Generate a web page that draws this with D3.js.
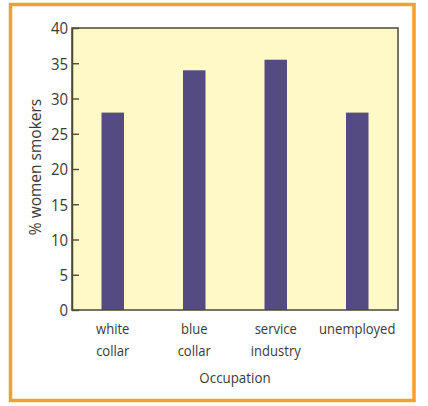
<!DOCTYPE html>
<html><head><meta charset="utf-8">
<script src="https://cdn.jsdelivr.net/npm/d3@7"></script>
<style>
html,body{margin:0;padding:0;background:#fff;}
svg{display:block;}
text{font-family:"Open Sans","DejaVu Sans",sans-serif;fill:#3a3a3a;}
</style></head>
<body>
<svg id="chart" width="428" height="406"></svg>
<script>
const categories = [["white","collar"],["blue","collar"],["service","industry"],["unemployed"]];
const values = [28, 34, 35.5, 28];
const yTicks = [0,5,10,15,20,25,30,35,40];
const yLabel = "% women smokers";
const xLabel = "Occupation";

const svg = d3.select("#chart");
const m = {left:72, right:398, top:28, bottom:310};
const sx = 0.87;

svg.append("rect").attr("x",10.5).attr("y",4.5).attr("width",403.5).attr("height",396)
  .attr("fill","none").attr("stroke","#f5a02c").attr("stroke-width",3.5);

const keys = categories.map(c=>c.join(" "));
const x = d3.scaleBand().domain(keys).range([m.left,m.right]).paddingInner(0.724).paddingOuter(0.362);
const y = d3.scaleLinear().domain([0,40]).range([m.bottom,m.top]);

svg.append("rect").attr("x",m.left).attr("y",m.top).attr("width",m.right-m.left).attr("height",m.bottom-m.top)
  .attr("fill","#fff9c8");

svg.selectAll("rect.bar").data(values).join("rect").attr("class","bar")
  .attr("x",(d,i)=>x(keys[i])).attr("width",x.bandwidth())
  .attr("y",d=>y(d)).attr("height",d=>y(0)-y(d)).attr("fill","#534b82");

svg.append("rect").attr("x",m.left).attr("y",m.top).attr("width",m.right-m.left).attr("height",m.bottom-m.top)
  .attr("fill","none").attr("stroke","#4a4838").attr("stroke-width",1.5);

const ya = svg.append("g").attr("transform",`translate(${m.left},0)`)
  .call(d3.axisLeft(y).tickValues(yTicks).tickSizeInner(-7).tickSizeOuter(0).tickPadding(4));
ya.select(".domain").attr("stroke","#4a4838").attr("stroke-width",1.5);
ya.selectAll(".tick line").attr("stroke","#4f4a30").attr("stroke-width",1.4);
ya.selectAll(".tick text").style("font-size","17px").attr("fill","#3a3a3a")
  .attr("x",-4/0.88).attr("dy","0.35em").attr("transform","scale(0.88,1)");

const xl = svg.append("g");
categories.forEach((c,i)=>{
  const cx = x(keys[i])+x.bandwidth()/2;
  const t = xl.append("text").attr("transform",`translate(${cx},334) scale(${sx},1)`)
    .attr("text-anchor","middle").style("font-size","15px");
  c.forEach((w,j)=>t.append("tspan").attr("x",0).attr("y",j*22).text(w));
});

svg.append("text").attr("transform",`translate(${(m.left+m.right)/2},383) scale(0.89,1)`).attr("text-anchor","middle")
  .style("font-size","15px").text(xLabel);

svg.append("text").attr("transform",`translate(41,167) rotate(-90)`)
  .attr("text-anchor","middle").style("font-size","15.5px").attr("fill","#444").text(yLabel);
</script>
</body></html>
